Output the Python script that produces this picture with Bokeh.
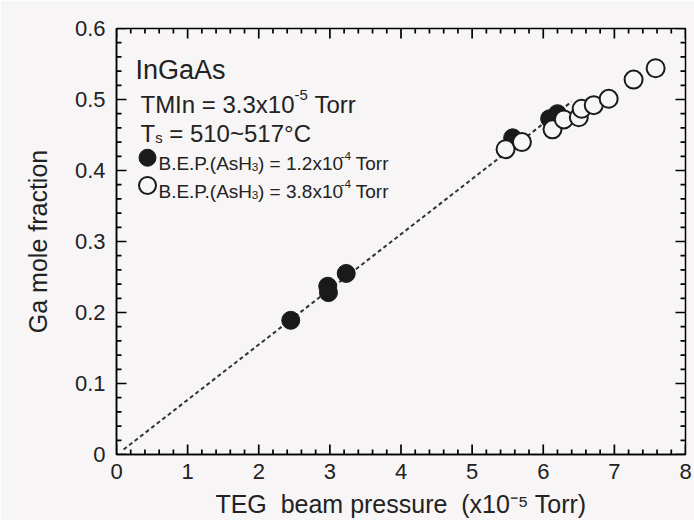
import math
from bokeh.plotting import figure
from bokeh.models import (Label, FixedTicker, CustomJSTickFormatter,
                          Range1d, ColumnDataSource)
from bokeh.embed import file_html
from bokeh.resources import INLINE

# ---------------- data ----------------
filled_x = [2.45, 2.97, 2.98, 3.23, 5.57, 6.09, 6.20]
filled_y = [0.189, 0.237, 0.228, 0.255, 0.446, 0.473, 0.480]

open_x = [5.47, 5.70, 6.13, 6.29, 6.50, 6.54, 6.71, 6.92, 7.27, 7.58]
open_y = [0.430, 0.440, 0.458, 0.472, 0.475, 0.487, 0.492, 0.501, 0.528, 0.544]

fit_x = [0.10, 6.40]
fit_y = [0.007, 0.497]

x_ticks = [0, 1, 2, 3, 4, 5, 6, 7, 8]
y_ticks = [0, 0.1, 0.2, 0.3, 0.4, 0.5, 0.6]

# ---------------- style ----------------
BG = "#f7f5f5"
INK = "#1a1a1a"
FONT = "Liberation Sans"
NB = "\u00a0"

X0, X1, Y0, Y1 = 0, 8, 0, 0.6
W_PX, H_PX = 694, 520
BL, BR, BT, BB = 116, 9, 28, 66
PX_X = (X1 - X0) / (W_PX - BL - BR)   # data units per pixel
PX_Y = (Y1 - Y0) / (H_PX - BT - BB)

x_minor = [round(i * 0.2, 2) for i in range(41)]
y_minor = [round(i * 0.02, 3) for i in range(31)]

p = figure(width=W_PX, height=H_PX, x_range=Range1d(X0, X1), y_range=Range1d(Y0, Y1),
           output_backend="svg", toolbar_location=None,
           min_border_left=BL, min_border_right=BR, min_border_top=BT, min_border_bottom=BB,
           background_fill_color=BG, border_fill_color=BG,
           outline_line_color="black", outline_line_width=1.5)
p.grid.visible = False

for ax in (p.xaxis[0], p.yaxis[0]):
    ax.major_tick_in = 0
    ax.major_tick_out = 0
    ax.minor_tick_in = 0
    ax.minor_tick_out = 0
    ax.axis_line_width = 1.5
    ax.axis_line_color = "black"
    ax.major_label_text_font = FONT
    ax.major_label_text_font_size = "22px"
    ax.major_label_text_color = "#222222"
    ax.axis_label_text_font = FONT
    ax.axis_label_text_font_size = "25px"
    ax.axis_label_text_font_style = "normal"
    ax.axis_label_text_color = "#222222"

p.xaxis[0].ticker = FixedTicker(ticks=x_ticks)
p.yaxis[0].ticker = FixedTicker(ticks=y_ticks)
p.xaxis[0].major_label_standoff = 9
p.yaxis[0].major_label_standoff = 11
p.yaxis[0].formatter = CustomJSTickFormatter(code="return tick == 0 ? '0' : tick.toFixed(1);")
p.xaxis[0].axis_label = "TEG" + NB + NB + "beam pressure" + NB + NB + "(x10\u207b\u2075 Torr)"
p.xaxis[0].axis_label_standoff = 8
p.yaxis[0].axis_label = "Ga mole fraction"
p.yaxis[0].axis_label_standoff = 20

# ---------------- inward tick marks on all four sides ----------------
sx0, sy0, sx1, sy1 = [], [], [], []


def add_x_ticks(vals, length):
    for v in vals:
        sx0.append(v); sy0.append(Y0); sx1.append(v); sy1.append(Y0 + length * PX_Y)
        sx0.append(v); sy0.append(Y1); sx1.append(v); sy1.append(Y1 - length * PX_Y)


def add_y_ticks(vals, length):
    for v in vals:
        sx0.append(X0); sy0.append(v); sx1.append(X0 + length * PX_X); sy1.append(v)
        sx0.append(X1); sy0.append(v); sx1.append(X1 - length * PX_X); sy1.append(v)


add_x_ticks(x_ticks, 10)
add_x_ticks([v for v in x_minor if abs(v - round(v)) > 1e-6], 5)
add_y_ticks(y_ticks, 10)
add_y_ticks([v for v in y_minor if abs(v * 10 - round(v * 10)) > 1e-6], 5)
p.segment(x0=sx0, y0=sy0, x1=sx1, y1=sy1, line_color="black", line_width=1.7)

# ---------------- glyphs ----------------
p.line(fit_x, fit_y, line_color="#333333", line_width=2, line_dash="4 3")

p.scatter(x="x", y="y", source=ColumnDataSource(dict(x=filled_x, y=filled_y)),
          size=18, fill_color=INK, line_color=INK, line_width=1)
p.scatter(x="x", y="y", source=ColumnDataSource(dict(x=open_x, y=open_y)),
          size=18, fill_color=BG, line_color=INK, line_width=2)

# ---------------- rich text helper (Arial metrics) ----------------
W = {' ': 278, '(': 333, ')': 333, '-': 333, '.': 278, '=': 584, '~': 584, '°': 400,
     'A': 667, 'B': 667, 'C': 722, 'E': 667, 'G': 778, 'H': 722, 'I': 278, 'M': 833,
     'P': 667, 'T': 611, 'a': 556, 'b': 556, 'c': 500, 'e': 556, 'f': 278, 'i': 222,
     'l': 222, 'm': 833, 'n': 556, 'o': 556, 'p': 556, 'r': 333, 's': 500, 't': 278,
     'u': 556, 'x': 500}


def tw(s, size):
    return sum(W.get(ch, 556) for ch in s) * size / 1000.0


def rich(pieces, x, y, size, fudge=1.0, color="#222222"):
    total = 0.0
    for txt, kind in pieces:
        fs = size if kind == "n" else size * 0.62
        dy = 0 if kind == "n" else (size * 0.40 if kind == "sup" else -size * 0.18)
        lead = txt[:len(txt) - len(txt.lstrip(" "))]
        body = txt.lstrip(" ")
        total += tw(lead, fs) * fudge
        p.add_layout(Label(x=x, y=y, x_offset=total, y_offset=dy, text=body,
                           text_font=FONT, text_font_size=f"{fs:.1f}px",
                           text_color=color, text_baseline="alphabetic",
                           text_align="left"))
        total += tw(body, fs) * fudge


rich([("InGaAs", "n")], 0.267, 0.541, 27)
rich([("TMIn = 3.3x10", "n"), ("-5", "sup"), (" Torr", "n")], 0.337, 0.493, 24)
rich([("T", "n"), ("s", "sub"), (" = 510~517°C", "n")], 0.337, 0.452, 24)

p.scatter([0.436], [0.418], size=17, fill_color=INK, line_color=INK)
p.scatter([0.436], [0.379], size=17, fill_color=BG, line_color=INK, line_width=2)
rich([("B.E.P.(AsH", "n"), ("3", "sub"), (") = 1.2x10", "n"), ("-4", "sup"), (" Torr", "n")],
     0.590, 0.410, 19, fudge=0.97)
rich([("B.E.P.(AsH", "n"), ("3", "sub"), (") = 3.8x10", "n"), ("-4", "sup"), (" Torr", "n")],
     0.590, 0.370, 19, fudge=0.97)

open("out.html", "w").write(file_html(p, INLINE))
